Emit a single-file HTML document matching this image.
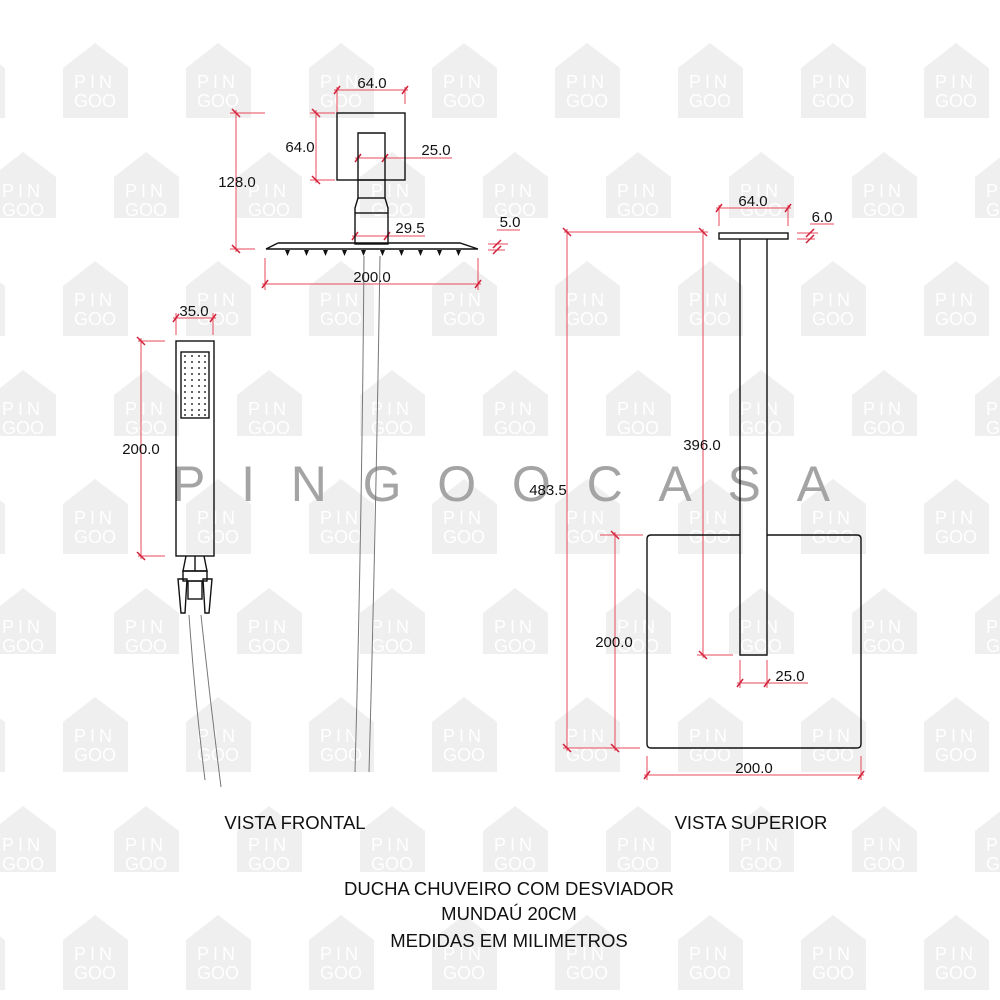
<!DOCTYPE html>
<html><head><meta charset="utf-8"><style>
html,body{margin:0;padding:0;background:#fff;}
svg{display:block;}
</style></head><body>
<svg width="1000" height="1000" viewBox="0 0 1000 1000" xmlns="http://www.w3.org/2000/svg" font-family="Liberation Sans, Arial, sans-serif">
<defs>
<pattern id="wm" x="0" y="0" width="123" height="218" patternUnits="userSpaceOnUse">
<g transform="translate(63,43)"><polygon points="0,25 32,0 65,25 65,75 0,75" fill="#efefef"/><text x="32" y="45" font-size="18" fill="#fff" text-anchor="middle" letter-spacing="4">PIN</text><text x="32" y="64" font-size="18" fill="#fff" text-anchor="middle" letter-spacing="0">GOO</text></g>
<g transform="translate(-60,43)"><polygon points="0,25 32,0 65,25 65,75 0,75" fill="#efefef"/><text x="32" y="45" font-size="18" fill="#fff" text-anchor="middle" letter-spacing="4">PIN</text><text x="32" y="64" font-size="18" fill="#fff" text-anchor="middle" letter-spacing="0">GOO</text></g>
<g transform="translate(-9,152)"><polygon points="0,25 32,0 65,25 65,75 0,75" fill="#efefef"/><text x="32" y="45" font-size="18" fill="#fff" text-anchor="middle" letter-spacing="4">PIN</text><text x="32" y="64" font-size="18" fill="#fff" text-anchor="middle" letter-spacing="0">GOO</text></g>
<g transform="translate(114,152)"><polygon points="0,25 32,0 65,25 65,75 0,75" fill="#efefef"/><text x="32" y="45" font-size="18" fill="#fff" text-anchor="middle" letter-spacing="4">PIN</text><text x="32" y="64" font-size="18" fill="#fff" text-anchor="middle" letter-spacing="0">GOO</text></g>
</pattern>
</defs>
<rect width="1000" height="1000" fill="#fff"/>
<rect width="1000" height="1000" fill="url(#wm)"/>
<text x="172" y="501" font-size="50" fill="#a4a4a4" textLength="658" lengthAdjust="spacing">PINGOOCASA</text>

<!-- RED DIMENSIONS -->
<g stroke="#e8485a" stroke-width="1" fill="none">
<line x1="334" y1="90" x2="408" y2="90"/><line x1="337" y1="87" x2="337" y2="113"/><line x1="405" y1="87" x2="405" y2="104"/>
<line x1="310" y1="113" x2="335" y2="113"/><line x1="310" y1="180" x2="335" y2="180"/><line x1="316" y1="110" x2="316" y2="183"/>
<line x1="230" y1="113" x2="265" y2="113"/><line x1="230" y1="249" x2="255" y2="249"/><line x1="236" y1="110" x2="236" y2="252"/>
<line x1="355" y1="158" x2="452" y2="158"/>
<line x1="352" y1="236" x2="425" y2="236"/>
<line x1="488" y1="244" x2="508" y2="244"/><line x1="488" y1="250" x2="505" y2="250"/><line x1="497" y1="230" x2="520" y2="230"/>
<line x1="262" y1="284" x2="481" y2="284"/><line x1="265" y1="258" x2="265" y2="290"/><line x1="478" y1="258" x2="478" y2="290"/>
<line x1="173" y1="318" x2="216" y2="318"/><line x1="176" y1="313" x2="176" y2="335"/><line x1="213" y1="313" x2="213" y2="335"/>
<line x1="138" y1="341" x2="165" y2="341"/><line x1="138" y1="556" x2="165" y2="556"/><line x1="141" y1="338" x2="141" y2="559"/>
<line x1="716" y1="208" x2="791" y2="208"/><line x1="719" y1="205" x2="719" y2="226"/><line x1="788" y1="205" x2="788" y2="226"/>
<line x1="797" y1="233" x2="818" y2="233"/><line x1="797" y1="239" x2="815" y2="239"/><line x1="810" y1="224" x2="834" y2="224"/>
<line x1="564" y1="232" x2="708" y2="232"/>
<line x1="703" y1="229" x2="703" y2="658"/><line x1="697" y1="655" x2="733" y2="655"/>
<line x1="567" y1="229" x2="567" y2="751"/><line x1="563" y1="748" x2="640" y2="748"/>
<line x1="600" y1="535" x2="643" y2="535"/><line x1="615" y1="532" x2="615" y2="751"/>
<line x1="737" y1="683" x2="808" y2="683"/><line x1="740" y1="660" x2="740" y2="688"/><line x1="767" y1="660" x2="767" y2="688"/>
<line x1="644" y1="775" x2="864" y2="775"/><line x1="647" y1="756" x2="647" y2="780"/><line x1="861" y1="756" x2="861" y2="780"/>
</g>
<g stroke="#d0203a" stroke-width="1.5">
<line x1="334" y1="94" x2="340" y2="86"/><line x1="402" y1="94" x2="408" y2="86"/>
<line x1="312" y1="109" x2="320" y2="117"/><line x1="312" y1="176" x2="320" y2="184"/>
<line x1="232" y1="109" x2="240" y2="117"/><line x1="232" y1="245" x2="240" y2="253"/>
<line x1="355" y1="162" x2="361" y2="154"/><line x1="382" y1="162" x2="388" y2="154"/>
<line x1="352" y1="240" x2="358" y2="232"/><line x1="384" y1="240" x2="390" y2="232"/>
<line x1="493" y1="248" x2="501" y2="240"/><line x1="493" y1="254" x2="501" y2="246"/>
<line x1="262" y1="288" x2="268" y2="280"/><line x1="475" y1="288" x2="481" y2="280"/>
<line x1="173" y1="322" x2="179" y2="314"/><line x1="210" y1="322" x2="216" y2="314"/>
<line x1="137" y1="337" x2="145" y2="345"/><line x1="137" y1="552" x2="145" y2="560"/>
<line x1="716" y1="212" x2="722" y2="204"/><line x1="785" y1="212" x2="791" y2="204"/>
<line x1="806" y1="237" x2="814" y2="229"/><line x1="806" y1="243" x2="814" y2="235"/>
<line x1="563" y1="228" x2="571" y2="236"/><line x1="699" y1="228" x2="707" y2="236"/>
<line x1="699" y1="651" x2="707" y2="659"/><line x1="563" y1="744" x2="571" y2="752"/>
<line x1="611" y1="531" x2="619" y2="539"/><line x1="611" y1="744" x2="619" y2="752"/>
<line x1="737" y1="687" x2="743" y2="679"/><line x1="764" y1="687" x2="770" y2="679"/>
<line x1="644" y1="779" x2="650" y2="771"/><line x1="858" y1="779" x2="864" y2="771"/>
</g>

<g stroke="#111" stroke-width="1.4" fill="none">
<rect x="337" y="113" width="68" height="67"/>
<path d="M358,180 V133 H385 V180"/>
<rect x="358" y="180" width="27" height="18"/>
<path d="M358,198 L355,208 V213 M385,198 L388,208 V213"/>
<rect x="355" y="213" width="33" height="31"/>
<path d="M266,249 H478 M278,243 H460 L478,249 M278,243 L266,249"/>
</g>
<g fill="#111">
<path d="M285,250 h5 l-2.5,6z M304,250 h5 l-2.5,6z M323,250 h5 l-2.5,6z M342,250 h5 l-2.5,6z M361,250 h5 l-2.5,6z M380,250 h5 l-2.5,6z M399,250 h5 l-2.5,6z M418,250 h5 l-2.5,6z M437,250 h5 l-2.5,6z M456,250 h5 l-2.5,6z"/>
</g>
<g stroke="#777" stroke-width="1" fill="none">
<path d="M364,256 Q362,520 355,772"/>
<path d="M380,256 Q376,520 369,772"/>
<path d="M189,615 Q195,700 205,780"/>
<path d="M201,615 Q210,700 221,787"/>
</g>
<g stroke="#111" stroke-width="1.4" fill="none">
<rect x="176" y="341" width="38" height="215"/>
<rect x="181" y="352" width="28" height="66"/>
<path d="M186,556 L183,571 H207 L204,556 M195,556 V571"/>
<rect x="183" y="571" width="24" height="10"/>
<rect x="188" y="581" width="14" height="18"/>
<path d="M178,579 H187 L185,613 H181 Z M203,579 H212 L209,613 H205 Z"/>
</g>
<g fill="#333">
<circle cx="185" cy="356" r="1"/><circle cx="192" cy="356" r="1"/><circle cx="199" cy="356" r="1"/><circle cx="205" cy="356" r="1"/>
<circle cx="185" cy="362" r="1"/><circle cx="192" cy="362" r="1"/><circle cx="199" cy="362" r="1"/><circle cx="205" cy="362" r="1"/>
<circle cx="185" cy="368" r="1"/><circle cx="192" cy="368" r="1"/><circle cx="199" cy="368" r="1"/><circle cx="205" cy="368" r="1"/>
<circle cx="185" cy="374" r="1"/><circle cx="192" cy="374" r="1"/><circle cx="199" cy="374" r="1"/><circle cx="205" cy="374" r="1"/>
<circle cx="185" cy="380" r="1"/><circle cx="192" cy="380" r="1"/><circle cx="199" cy="380" r="1"/><circle cx="205" cy="380" r="1"/>
<circle cx="185" cy="386" r="1"/><circle cx="192" cy="386" r="1"/><circle cx="199" cy="386" r="1"/><circle cx="205" cy="386" r="1"/>
<circle cx="185" cy="392" r="1"/><circle cx="192" cy="392" r="1"/><circle cx="199" cy="392" r="1"/><circle cx="205" cy="392" r="1"/>
<circle cx="185" cy="398" r="1"/><circle cx="192" cy="398" r="1"/><circle cx="199" cy="398" r="1"/><circle cx="205" cy="398" r="1"/>
<circle cx="185" cy="404" r="1"/><circle cx="192" cy="404" r="1"/><circle cx="199" cy="404" r="1"/><circle cx="205" cy="404" r="1"/>
<circle cx="185" cy="410" r="1"/><circle cx="192" cy="410" r="1"/><circle cx="199" cy="410" r="1"/><circle cx="205" cy="410" r="1"/>
<circle cx="185" cy="415" r="1"/><circle cx="192" cy="415" r="1"/><circle cx="199" cy="415" r="1"/><circle cx="205" cy="415" r="1"/>
</g>
<g stroke="#111" stroke-width="1.4" fill="none">
<rect x="719" y="233" width="69" height="6"/>
<path d="M740,239 V655 H767 V239"/>
<path d="M740,535 H651 Q647,535 647,539 V744 Q647,748 651,748 H857 Q861,748 861,744 V539 Q861,535 857,535 H767"/>
</g>

<g font-size="15" fill="#111" text-anchor="middle">
<text x="372" y="88">64.0</text>
<text x="300" y="152">64.0</text>
<text x="237" y="187">128.0</text>
<text x="436" y="155">25.0</text>
<text x="410" y="233">29.5</text>
<text x="510" y="227">5.0</text>
<text x="372" y="282">200.0</text>
<text x="194" y="316">35.0</text>
<text x="141" y="454">200.0</text>
<text x="753" y="206">64.0</text>
<text x="822" y="222">6.0</text>
<text x="702" y="450">396.0</text>
<text x="548" y="495">483.5</text>
<text x="614" y="647">200.0</text>
<text x="790" y="681">25.0</text>
<text x="754" y="773">200.0</text>
</g>
<g font-size="18.5" fill="#111" text-anchor="middle">
<text x="295" y="829">VISTA FRONTAL</text>
<text x="751" y="829">VISTA SUPERIOR</text>
<text x="509" y="895">DUCHA CHUVEIRO COM DESVIADOR</text>
<text x="509" y="920">MUNDAÚ  20CM</text>
<text x="509" y="947">MEDIDAS EM MILIMETROS</text>
</g>
</svg>
</body></html>
